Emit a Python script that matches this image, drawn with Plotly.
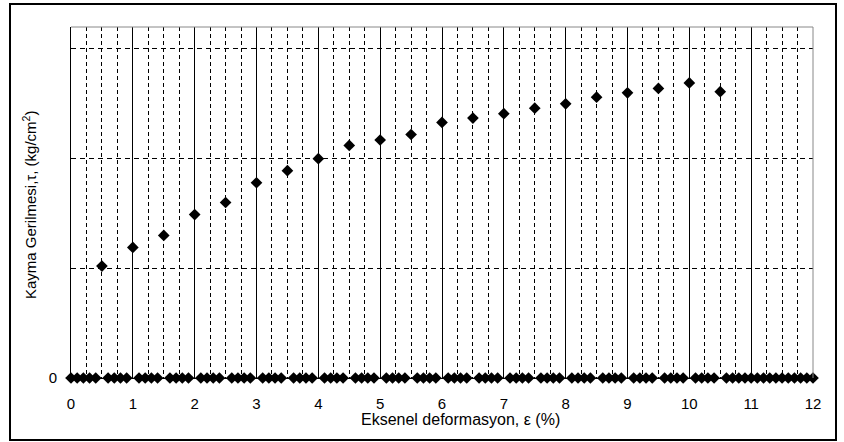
import plotly.graph_objects as go

# Measured shear stress at each 0.5 % strain step
strain = [0.5, 1.0, 1.5, 2.0, 2.5, 3.0, 3.5, 4.0, 4.5, 5.0, 5.5,
          6.0, 6.5, 7.0, 7.5, 8.0, 8.5, 9.0, 9.5, 10.0, 10.5]
tau = [1.02, 1.19, 1.30, 1.49, 1.60, 1.78, 1.89, 2.00, 2.12, 2.17, 2.22,
       2.33, 2.37, 2.41, 2.46, 2.50, 2.56, 2.60, 2.64, 2.69, 2.61]

# Readings logged as zero between the measured steps
zero_strain = [0.0, 0.1, 0.2, 0.3, 0.4, 0.6, 0.7, 0.8, 0.9,
               1.1, 1.2, 1.3, 1.4, 1.6, 1.7, 1.8, 1.9,
               2.1, 2.2, 2.3, 2.4, 2.6, 2.7, 2.8, 2.9,
               3.1, 3.2, 3.3, 3.4, 3.6, 3.7, 3.8, 3.9,
               4.1, 4.2, 4.3, 4.4, 4.6, 4.7, 4.8, 4.9,
               5.1, 5.2, 5.3, 5.4, 5.6, 5.7, 5.8, 5.9,
               6.1, 6.2, 6.3, 6.4, 6.6, 6.7, 6.8, 6.9,
               7.1, 7.2, 7.3, 7.4, 7.6, 7.7, 7.8, 7.9,
               8.1, 8.2, 8.3, 8.4, 8.6, 8.7, 8.8, 8.9,
               9.1, 9.2, 9.3, 9.4, 9.6, 9.7, 9.8, 9.9,
               10.1, 10.2, 10.3, 10.4, 10.6, 10.7, 10.8, 10.9,
               11.0, 11.1, 11.2, 11.3, 11.4, 11.5, 11.6, 11.7, 11.8, 11.9, 12.0]
zero_tau = [0.0] * len(zero_strain)

x_ticks = [0, 1, 2, 3, 4, 5, 6, 7, 8, 9, 10, 11, 12]
y_ticks = [0]
y_grid_step = 1

FONT = "Liberation Sans, Arial, sans-serif"
W, H = 844, 442
L, R, T, B = 71, 31, 27, 64
pw, ph = W - L - R, H - T - B


def px_x(p):
    return (p - L) / pw


def px_y(p):
    return (H - B - p) / ph


marker = dict(symbol="diamond", size=9, color="black")

fig = go.Figure()
fig.add_trace(go.Scatter(x=zero_strain, y=zero_tau, mode="markers",
                         marker=marker, cliponaxis=False, showlegend=False))
fig.add_trace(go.Scatter(x=strain, y=tau, mode="markers",
                         marker=marker, cliponaxis=False, showlegend=False))

fig.update_layout(
    width=W, height=H,
    margin=dict(l=L, r=R, t=T, b=B),
    paper_bgcolor="white", plot_bgcolor="white",
    font=dict(family=FONT, size=15, color="black"),
    xaxis=dict(
        range=[0, 12], tickvals=x_ticks, ticks="",
        showgrid=True, gridcolor="black", gridwidth=1,
        minor=dict(dtick=0.25, showgrid=True, gridcolor="black",
                   griddash="4px,3px", gridwidth=1),
        showline=True, linecolor="black", linewidth=1,
        zeroline=False, ticklabelstandoff=12,
        tickfont=dict(size=15),
    ),
    yaxis=dict(
        range=[0, 3.2], tickvals=y_ticks, ticks="",
        showgrid=False,
        minor=dict(tick0=0, dtick=y_grid_step, showgrid=True, gridcolor="black",
                   griddash="5px,4px", gridwidth=1),
        showline=True, linecolor="black", linewidth=1,
        zeroline=False, ticklabelstandoff=10,
        tickfont=dict(size=15),
    ),
    shapes=[
        # grey frame on the top and right of the plot area
        dict(type="line", xref="paper", yref="paper", x0=0, x1=1, y0=1, y1=1,
             line=dict(color="#888888", width=1)),
        dict(type="line", xref="paper", yref="paper", x0=1, x1=1, y0=0, y1=1,
             line=dict(color="#888888", width=1)),
        # outer chart border
        dict(type="rect", xref="paper", yref="paper",
             x0=px_x(10), x1=px_x(836), y0=px_y(440), y1=px_y(4),
             line=dict(color="black", width=2), layer="above"),
    ],
    annotations=[
        dict(text="Eksenel deformasyon, ε (%)", xref="paper", yref="paper",
             x=px_x(461), y=px_y(419), showarrow=False,
             xanchor="center", yanchor="middle",
             font=dict(family=FONT, size=16, color="black")),
        dict(text="Kayma Gerilmesi,τ, (kg/cm<sup>2</sup>)", xref="paper", yref="paper",
             x=px_x(29), y=px_y(205), showarrow=False, textangle=-90,
             xanchor="center", yanchor="middle",
             font=dict(family=FONT, size=15, color="black")),
    ],
)

fig.write_html("out.html")
